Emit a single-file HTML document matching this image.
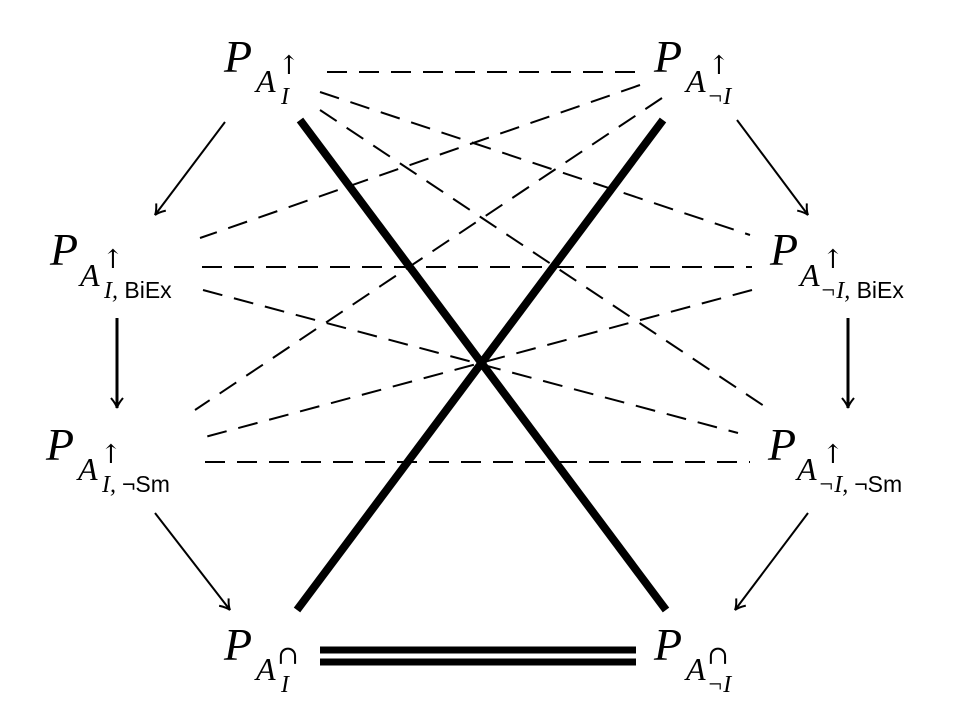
<!DOCTYPE html>
<html><head><meta charset="utf-8"><style>
html,body{margin:0;padding:0;background:#fff;width:969px;height:724px;overflow:hidden}
svg{display:block}
.P{font-family:"Liberation Serif",serif;font-style:italic;font-size:46px}
.A{font-family:"Liberation Serif",serif;font-style:italic;font-size:32px}
.s{font-family:"Liberation Serif",serif;font-style:italic;font-size:24px}
.u{font-family:"DejaVu Serif",serif;font-size:26px}
.t{font-family:"Liberation Sans",sans-serif;font-size:23px;font-style:normal}
</style></head><body>
<svg width="969" height="724" viewBox="0 0 969 724" xmlns="http://www.w3.org/2000/svg">
<defs>
<marker id="ar" markerWidth="14" markerHeight="14" refX="12" refY="7" orient="auto" markerUnits="userSpaceOnUse">
<path d="M2,1 Q8,6 12,7 Q8,8 2,13" fill="none" stroke="#000" stroke-width="2"/>
</marker>
</defs>
<g stroke="#000" stroke-width="2" stroke-dasharray="20,12" fill="none">
<line x1="327" y1="72" x2="640" y2="72"/>
<line x1="320" y1="92" x2="750" y2="235"/>
<line x1="320" y1="110" x2="770" y2="410"/>
<line x1="640" y1="85" x2="200" y2="238"/>
<line x1="662" y1="98" x2="195" y2="410"/>
<line x1="202" y1="267" x2="752" y2="267"/>
<line x1="203" y1="290" x2="738" y2="433"/>
<line x1="752" y1="290" x2="205" y2="437"/>
<line x1="205" y1="462" x2="750" y2="462"/>
</g>
<g stroke="#000" stroke-width="8">
<line x1="300" y1="120" x2="666" y2="610"/>
<line x1="663" y1="120" x2="297" y2="610"/>
<line x1="320" y1="650" x2="636" y2="650" stroke-width="7"/>
<line x1="320" y1="662" x2="636" y2="662" stroke-width="7"/>
</g>
<g stroke="#000" stroke-width="2" fill="none" marker-end="url(#ar)">
<line x1="225" y1="122" x2="155" y2="215"/>
<line x1="737" y1="120" x2="808" y2="215"/>
<line x1="117" y1="318" x2="117" y2="408" stroke-width="3"/>
<line x1="848" y1="318" x2="848" y2="408" stroke-width="3"/>
<line x1="155" y1="513" x2="230" y2="610"/>
<line x1="808" y1="513" x2="735" y2="610"/>
</g>
<g fill="#000">
<text class="P" x="224" y="72">P</text><text class="A" x="256" y="92">A</text><text class="u" x="278" y="74">↑</text><text class="s" x="281" y="104">I</text>
<text class="P" x="654" y="72">P</text><text class="A" x="686" y="92">A</text><text class="u" x="708" y="74">↑</text><text class="s" x="707" y="104">¬I</text>
<text class="P" x="50" y="265">P</text><text class="A" x="80" y="286">A</text><text class="u" x="102" y="268">↑</text><text class="s" x="104" y="298">I,<tspan class="t"> BiEx</tspan></text>
<text class="P" x="770" y="265">P</text><text class="A" x="800" y="286">A</text><text class="u" x="822" y="268">↑</text><text class="s" x="820" y="298">¬I,<tspan class="t"> BiEx</tspan></text>
<text class="P" x="46" y="460">P</text><text class="A" x="78" y="480">A</text><text class="u" x="100" y="463">↑</text><text class="s" x="102" y="492">I, <tspan class="t">¬Sm</tspan></text>
<text class="P" x="768" y="460">P</text><text class="A" x="797" y="480">A</text><text class="u" x="822" y="463">↑</text><text class="s" x="818" y="492">¬I, <tspan class="t">¬Sm</tspan></text>
<text class="P" x="224" y="660">P</text><text class="A" x="256" y="680">A</text><text class="u" x="277" y="664">∩</text><text class="s" x="281" y="692">I</text>
<text class="P" x="654" y="660">P</text><text class="A" x="686" y="680">A</text><text class="u" x="707" y="664">∩</text><text class="s" x="707" y="692">¬I</text>
</g>
</svg>
</body></html>
